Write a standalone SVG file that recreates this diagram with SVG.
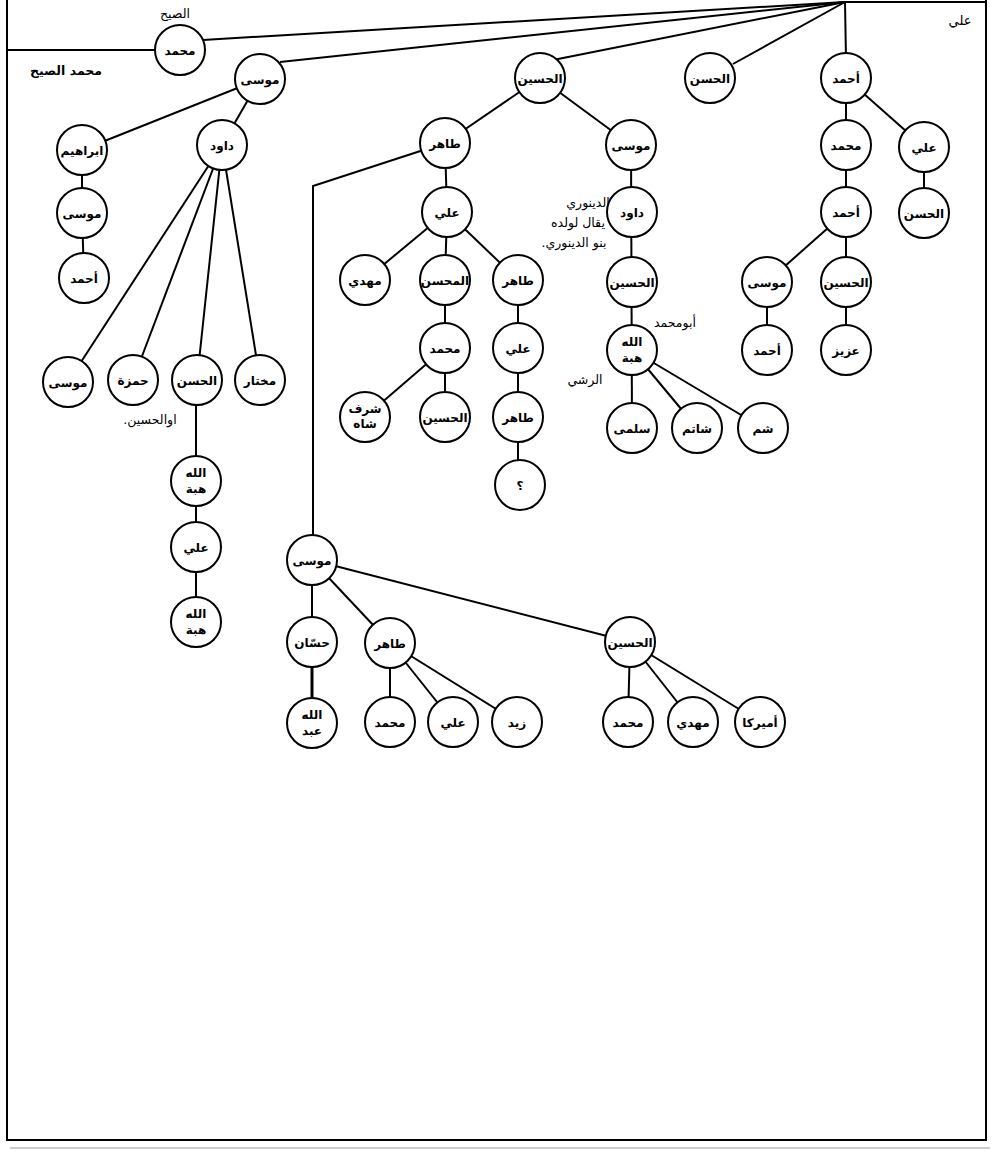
<svg xmlns="http://www.w3.org/2000/svg" width="992" height="1151" viewBox="0 0 992 1151">
<style>
.n circle{fill:#fff;stroke:#000;stroke-width:2}
.n text{font-family:'DejaVu Sans',sans-serif;font-size:12px;font-weight:bold;text-anchor:middle;fill:#000}
.c line,.c polyline{stroke:#000;stroke-width:2;fill:none}
.b{stroke:#000;stroke-width:2;fill:none}
.t{font-family:'DejaVu Sans',sans-serif;font-size:12.5px;text-anchor:middle;fill:#000}
.r{direction:rtl;unicode-bidi:embed}
</style>
<rect width="992" height="1151" fill="#fff"/>
<g id="frame">
<line class="b" x1="7" y1="0" x2="7" y2="1140"/>
<line class="b" x1="986" y1="0" x2="986" y2="1140"/>
<line class="b" x1="6" y1="1140" x2="987" y2="1140"/>
<line class="b" x1="845" y1="2" x2="987" y2="2"/>
<line x1="10" y1="1148" x2="990" y2="1148" stroke="#bbb" stroke-width="1.5"/>
</g>
<g class="c" id="connectors">
<line x1="845" y1="2" x2="203" y2="40"/>
<line x1="845" y1="2" x2="280" y2="62"/>
<line x1="845" y1="2" x2="553" y2="60"/>
<line x1="845" y1="2" x2="733" y2="64"/>
<line x1="845" y1="2" x2="846" y2="60"/>
<line x1="7" y1="50" x2="160" y2="50"/>
<line x1="260" y1="79" x2="82" y2="150"/>
<line x1="260" y1="79" x2="222" y2="145"/>
<line x1="82" y1="150" x2="82" y2="213"/>
<line x1="82" y1="213" x2="84" y2="278"/>
<line x1="222" y1="145" x2="68" y2="382"/>
<line x1="222" y1="145" x2="133" y2="380"/>
<line x1="222" y1="145" x2="197" y2="380"/>
<line x1="222" y1="145" x2="260" y2="380"/>
<line x1="196" y1="380" x2="196" y2="622"/>
<line x1="540" y1="78" x2="445" y2="143"/>
<line x1="540" y1="78" x2="631" y2="145"/>
<polyline points="445,143 313,186 313,560"/>
<line x1="445" y1="143" x2="447" y2="212"/>
<line x1="447" y1="212" x2="365" y2="280"/>
<line x1="447" y1="212" x2="445" y2="280"/>
<line x1="447" y1="212" x2="518" y2="280"/>
<line x1="445" y1="280" x2="445" y2="348"/>
<line x1="445" y1="348" x2="365" y2="417"/>
<line x1="445" y1="348" x2="445" y2="417"/>
<line x1="518" y1="280" x2="518" y2="485"/>
<line x1="631" y1="145" x2="632" y2="428"/>
<line x1="632" y1="350" x2="697" y2="428"/>
<line x1="632" y1="350" x2="763" y2="428"/>
<line x1="846" y1="78" x2="846" y2="212"/>
<line x1="846" y1="78" x2="924" y2="147"/>
<line x1="924" y1="147" x2="924" y2="213"/>
<line x1="846" y1="212" x2="767" y2="282"/>
<line x1="846" y1="212" x2="846" y2="350"/>
<line x1="767" y1="282" x2="767" y2="350"/>
<line x1="312" y1="560" x2="312" y2="642"/>
<line x1="312" y1="642" x2="312" y2="723" style="stroke-width:3"/>
<line x1="312" y1="560" x2="390" y2="643"/>
<line x1="312" y1="560" x2="630" y2="642"/>
<line x1="390" y1="643" x2="390" y2="722"/>
<line x1="390" y1="643" x2="453" y2="722"/>
<line x1="390" y1="643" x2="517" y2="722"/>
<line x1="630" y1="642" x2="628" y2="722"/>
<line x1="630" y1="642" x2="693" y2="722"/>
<line x1="630" y1="642" x2="760" y2="722"/>
</g>
<g id="labels">
<text class="t" x="175" y="18">الصيح</text>
<text class="t" x="66" y="75" style="font-weight:bold">محمد الصيح</text>
<text class="t" x="960" y="25" style="font-size:13px">علي</text>
<text class="t" x="588" y="207">الدينوري</text>
<text class="t" x="578" y="227">يقال لولده</text>
<text class="t r" x="574" y="247">بنو الدينوري.</text>
<text class="t" x="675" y="327">أبومحمد</text>
<text class="t" x="585" y="384">الرشي</text>
<text class="t r" x="150" y="424">اوالحسين.</text>
</g>
<g class="n" id="n1"><circle cx="180" cy="50" r="25"/><text x="180" y="55">محمد</text></g>
<g class="n" id="n2"><circle cx="260" cy="79" r="25"/><text x="260" y="84">موسى</text></g>
<g class="n" id="n3"><circle cx="540" cy="78" r="25"/><text x="540" y="83">الحسين</text></g>
<g class="n" id="n4"><circle cx="710" cy="78" r="25"/><text x="710" y="83">الحسن</text></g>
<g class="n" id="n5"><circle cx="846" cy="78" r="25"/><text x="846" y="83">أحمد</text></g>
<g class="n" id="n6"><circle cx="82" cy="150" r="25"/><text x="82" y="155">ابراهيم</text></g>
<g class="n" id="n7"><circle cx="82" cy="213" r="25"/><text x="82" y="218">موسى</text></g>
<g class="n" id="n8"><circle cx="84" cy="278" r="25"/><text x="84" y="283">أحمد</text></g>
<g class="n" id="n9"><circle cx="222" cy="145" r="25"/><text x="222" y="150">داود</text></g>
<g class="n" id="n10"><circle cx="68" cy="382" r="25"/><text x="68" y="387">موسى</text></g>
<g class="n" id="n11"><circle cx="133" cy="380" r="25"/><text x="133" y="385">حمزة</text></g>
<g class="n" id="n12"><circle cx="197" cy="380" r="25"/><text x="197" y="385">الحسن</text></g>
<g class="n" id="n13"><circle cx="260" cy="380" r="25"/><text x="260" y="385">مختار</text></g>
<g class="n" id="n14"><circle cx="196" cy="481" r="25"/><text x="196" y="477">الله</text><text x="196" y="493">هبة</text></g>
<g class="n" id="n15"><circle cx="196" cy="547" r="25"/><text x="196" y="552">علي</text></g>
<g class="n" id="n16"><circle cx="196" cy="622" r="25"/><text x="196" y="618">الله</text><text x="196" y="634">هبة</text></g>
<g class="n" id="n17"><circle cx="445" cy="143" r="25"/><text x="445" y="148">طاهر</text></g>
<g class="n" id="n18"><circle cx="631" cy="145" r="25"/><text x="631" y="150">موسى</text></g>
<g class="n" id="n19"><circle cx="447" cy="212" r="25"/><text x="447" y="217">علي</text></g>
<g class="n" id="n20"><circle cx="365" cy="280" r="25"/><text x="365" y="285">مهدي</text></g>
<g class="n" id="n21"><circle cx="445" cy="280" r="25"/><text x="445" y="285">المحسن</text></g>
<g class="n" id="n22"><circle cx="518" cy="280" r="25"/><text x="518" y="285">طاهر</text></g>
<g class="n" id="n23"><circle cx="445" cy="348" r="25"/><text x="445" y="353">محمد</text></g>
<g class="n" id="n24"><circle cx="518" cy="348" r="25"/><text x="518" y="353">علي</text></g>
<g class="n" id="n25"><circle cx="365" cy="417" r="25"/><text x="365" y="413">شرف</text><text x="365" y="428">شاه</text></g>
<g class="n" id="n26"><circle cx="445" cy="417" r="25"/><text x="445" y="422">الحسين</text></g>
<g class="n" id="n27"><circle cx="518" cy="417" r="25"/><text x="518" y="422">طاهر</text></g>
<g class="n" id="n28"><circle cx="520" cy="485" r="25"/><text x="520" y="490">؟</text></g>
<g class="n" id="n29"><circle cx="632" cy="212" r="25"/><text x="632" y="217">داود</text></g>
<g class="n" id="n30"><circle cx="632" cy="282" r="25"/><text x="632" y="287">الحسين</text></g>
<g class="n" id="n31"><circle cx="632" cy="350" r="25"/><text x="632" y="346">الله</text><text x="632" y="362">هبة</text></g>
<g class="n" id="n32"><circle cx="632" cy="428" r="25"/><text x="632" y="433">سلمى</text></g>
<g class="n" id="n33"><circle cx="697" cy="428" r="25"/><text x="697" y="433">شاتم</text></g>
<g class="n" id="n34"><circle cx="763" cy="428" r="25"/><text x="763" y="433">شم</text></g>
<g class="n" id="n35"><circle cx="846" cy="145" r="25"/><text x="846" y="150">محمد</text></g>
<g class="n" id="n36"><circle cx="924" cy="147" r="25"/><text x="924" y="152">علي</text></g>
<g class="n" id="n37"><circle cx="846" cy="212" r="25"/><text x="846" y="217">أحمد</text></g>
<g class="n" id="n38"><circle cx="924" cy="213" r="25"/><text x="924" y="218">الحسن</text></g>
<g class="n" id="n39"><circle cx="767" cy="282" r="25"/><text x="767" y="287">موسى</text></g>
<g class="n" id="n40"><circle cx="846" cy="282" r="25"/><text x="846" y="287">الحسين</text></g>
<g class="n" id="n41"><circle cx="767" cy="350" r="25"/><text x="767" y="355">أحمد</text></g>
<g class="n" id="n42"><circle cx="846" cy="350" r="25"/><text x="846" y="355">عزيز</text></g>
<g class="n" id="n43"><circle cx="312" cy="560" r="25"/><text x="312" y="565">موسى</text></g>
<g class="n" id="n44"><circle cx="312" cy="642" r="25"/><text x="312" y="647">حسّان</text></g>
<g class="n" id="n45"><circle cx="312" cy="723" r="25"/><text x="312" y="719">الله</text><text x="312" y="735">عبد</text></g>
<g class="n" id="n46"><circle cx="390" cy="643" r="25"/><text x="390" y="648">طاهر</text></g>
<g class="n" id="n47"><circle cx="390" cy="722" r="25"/><text x="390" y="727">محمد</text></g>
<g class="n" id="n48"><circle cx="453" cy="722" r="25"/><text x="453" y="727">علي</text></g>
<g class="n" id="n49"><circle cx="517" cy="722" r="25"/><text x="517" y="727">زيد</text></g>
<g class="n" id="n50"><circle cx="630" cy="642" r="25"/><text x="630" y="647">الحسين</text></g>
<g class="n" id="n51"><circle cx="628" cy="722" r="25"/><text x="628" y="727">محمد</text></g>
<g class="n" id="n52"><circle cx="693" cy="722" r="25"/><text x="693" y="727">مهدي</text></g>
<g class="n" id="n53"><circle cx="760" cy="722" r="25"/><text x="760" y="727">أميركا</text></g>
</svg>
